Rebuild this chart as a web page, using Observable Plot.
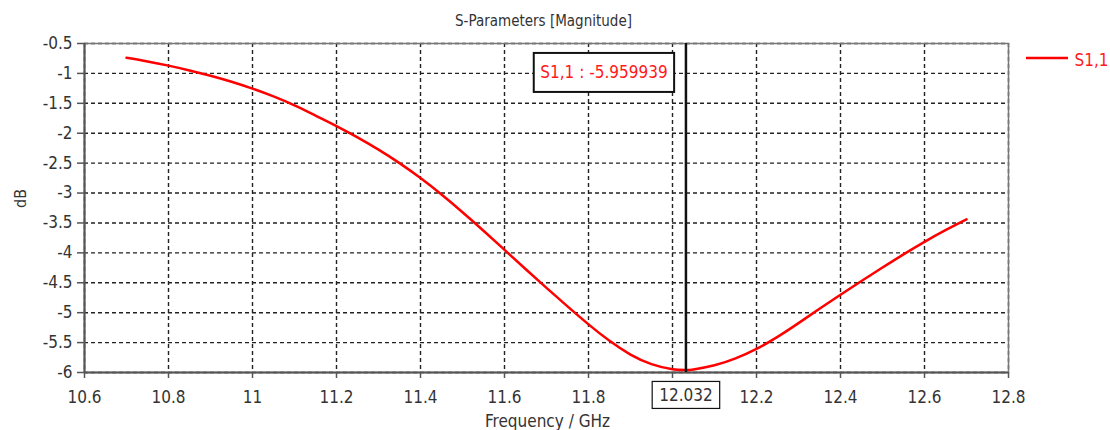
<!DOCTYPE html>
<html>
<head>
<meta charset="utf-8">
<script src="https://cdn.jsdelivr.net/npm/d3@7"></script>
<script src="https://cdn.jsdelivr.net/npm/@observablehq/plot@0.6"></script>
<style>
  html, body { margin: 0; padding: 0; background: #fff; }
  svg { display: block; }
</style>
</head>
<body>
<div id="chart"></div>
<script>
// ---- data ----
const freq = [10.70, 10.75, 10.80, 10.85, 10.90, 10.95, 11.00, 11.05, 11.10, 11.15,
              11.20, 11.25, 11.30, 11.35, 11.40, 11.45, 11.50, 11.55, 11.60, 11.65,
              11.70, 11.75, 11.80, 11.85, 11.90, 11.95, 12.00, 12.032, 12.05, 12.10,
              12.15, 12.20, 12.25, 12.30, 12.35, 12.40, 12.45, 12.50, 12.55, 12.60,
              12.65, 12.70];
const s11 = [-0.74, -0.80, -0.87, -0.95, -1.04, -1.14, -1.255, -1.385, -1.535, -1.705,
             -1.88, -2.07, -2.275, -2.50, -2.75, -3.025, -3.32, -3.63, -3.95, -4.27,
             -4.585, -4.895, -5.195, -5.47, -5.70, -5.86, -5.945, -5.96, -5.95, -5.88,
             -5.765, -5.605, -5.405, -5.175, -4.935, -4.70, -4.47, -4.245, -4.025, -3.815,
             -3.62, -3.44];
const xTicks = [10.6, 10.8, 11, 11.2, 11.4, 11.6, 11.8, 12, 12.2, 12.4, 12.6, 12.8];
const yTicks = [-6, -5.5, -5, -4.5, -4, -3.5, -3, -2.5, -2, -1.5, -1, -0.5];
const markerFreq = 12.032;
const markerValue = -5.959939;
const seriesName = "S1,1";
const titleText = "S-Parameters [Magnitude]";
const xLabel = "Frequency / GHz";
const yLabel = "dB";

const data = freq.map((f, i) => ({f, v: s11[i]}));
const font = "'DejaVu Sans Condensed', 'DejaVu Sans', sans-serif";

const chart = Plot.plot({
  width: 1110,
  height: 430,
  marginLeft: 84,
  marginRight: 102,
  marginTop: 43,
  marginBottom: 58,
  style: {fontFamily: font, fontSize: "17px", color: "#333", background: "#fff", overflow: "visible"},
  x: {domain: [10.6, 12.8], label: null},
  y: {domain: [-6, -0.5], label: null},
  marks: [
    Plot.gridX(xTicks, {stroke: "#222", strokeOpacity: 1, strokeWidth: 1.4, strokeDasharray: "4,3"}),
    Plot.gridY(yTicks, {stroke: "#222", strokeOpacity: 1, strokeWidth: 1.4, strokeDasharray: "4,3"}),
    Plot.frame({stroke: "#777", strokeWidth: 1.5}),
    Plot.axisX(xTicks, {
      tickSize: 6, tickPadding: 12, stroke: "#555", strokeWidth: 1.5, fill: "#333",
      fontSize: 17, tickFormat: d => d === 12 ? "" : String(d), label: null
    }),
    Plot.axisY(yTicks, {
      tickSize: 7, tickPadding: 5, stroke: "#555", strokeWidth: 1.5, fill: "#333",
      fontSize: 17, tickFormat: d => String(d), label: null
    }),
    Plot.ruleY([-6], {stroke: "#555", strokeWidth: 2}),
    Plot.ruleX([10.6], {stroke: "#555", strokeWidth: 2}),
    Plot.line(data, {x: "f", y: "v", stroke: "#ff0000", strokeWidth: 2.5, curve: "natural"}),
    Plot.ruleX([markerFreq], {stroke: "#111", strokeWidth: 2.5}),
    // marker value annotation (boxed after render)
    Plot.text([markerValue], {
      x: () => markerFreq, frameAnchor: "top", dx: -82, dy: 29.5,
      text: d => `${seriesName} : ${d}`, fill: "#ff1a1a", fontSize: 17,
      textAnchor: "middle", lineAnchor: "middle", className: "boxed-note"
    }),
    // marker frequency label on x axis (boxed after render)
    Plot.text([markerFreq], {
      x: d => d, frameAnchor: "bottom", dy: 23,
      text: d => String(d), fill: "#333", fontSize: 17,
      textAnchor: "middle", lineAnchor: "middle", className: "boxed-x"
    }),
    // title
    Plot.text([titleText], {
      frameAnchor: "top", dy: -22, dx: -3, text: d => d, fill: "#333",
      fontSize: 15, lineAnchor: "middle"
    }),
    // x axis label
    Plot.text([xLabel], {
      frameAnchor: "bottom", dy: 49, dx: 1, text: d => d, fill: "#333",
      fontSize: 17, lineAnchor: "middle"
    }),
    // y axis label
    Plot.text([yLabel], {
      frameAnchor: "left", dx: -64, text: d => d, fill: "#333",
      fontSize: 16, rotate: -90, lineAnchor: "middle"
    }),
    // legend label
    Plot.text([seriesName], {
      frameAnchor: "top-right", dx: 66, dy: 17, text: d => d, fill: "#ff1a1a",
      fontSize: 17, textAnchor: "start", lineAnchor: "middle", className: "legend-label"
    })
  ]
});

document.getElementById("chart").appendChild(chart);

// draw boxes around boxed texts, and legend swatch line
const svg = d3.select(chart);
function boxAround(cls, padX, padY, sw) {
  svg.selectAll(`g.${cls} text`).each(function () {
    const b = this.getBBox();
    const t = this.getAttribute("transform");
    const g = this.parentNode;
    const r = document.createElementNS("http://www.w3.org/2000/svg", "rect");
    r.setAttribute("x", b.x - padX);
    r.setAttribute("y", b.y - padY);
    r.setAttribute("width", b.width + 2 * padX);
    r.setAttribute("height", b.height + 2 * padY);
    r.setAttribute("fill", "#fff");
    r.setAttribute("stroke", "#111");
    r.setAttribute("stroke-width", sw);
    if (t) r.setAttribute("transform", t);
    g.insertBefore(r, this);
  });
}
boxAround("boxed-note", 6.5, 9.5, 2);
boxAround("boxed-x", 7, 3.5, 1.2);

const xs = chart.scale("x");
const ys = chart.scale("y");
const xr = xs.range[1];
const yTop = ys.range[1];
svg.append("line")
  .attr("x1", xr + 18).attr("x2", xr + 60)
  .attr("y1", yTop + 15).attr("y2", yTop + 15)
  .attr("stroke", "#ff0000").attr("stroke-width", 2.5);
</script>
</body>
</html>
